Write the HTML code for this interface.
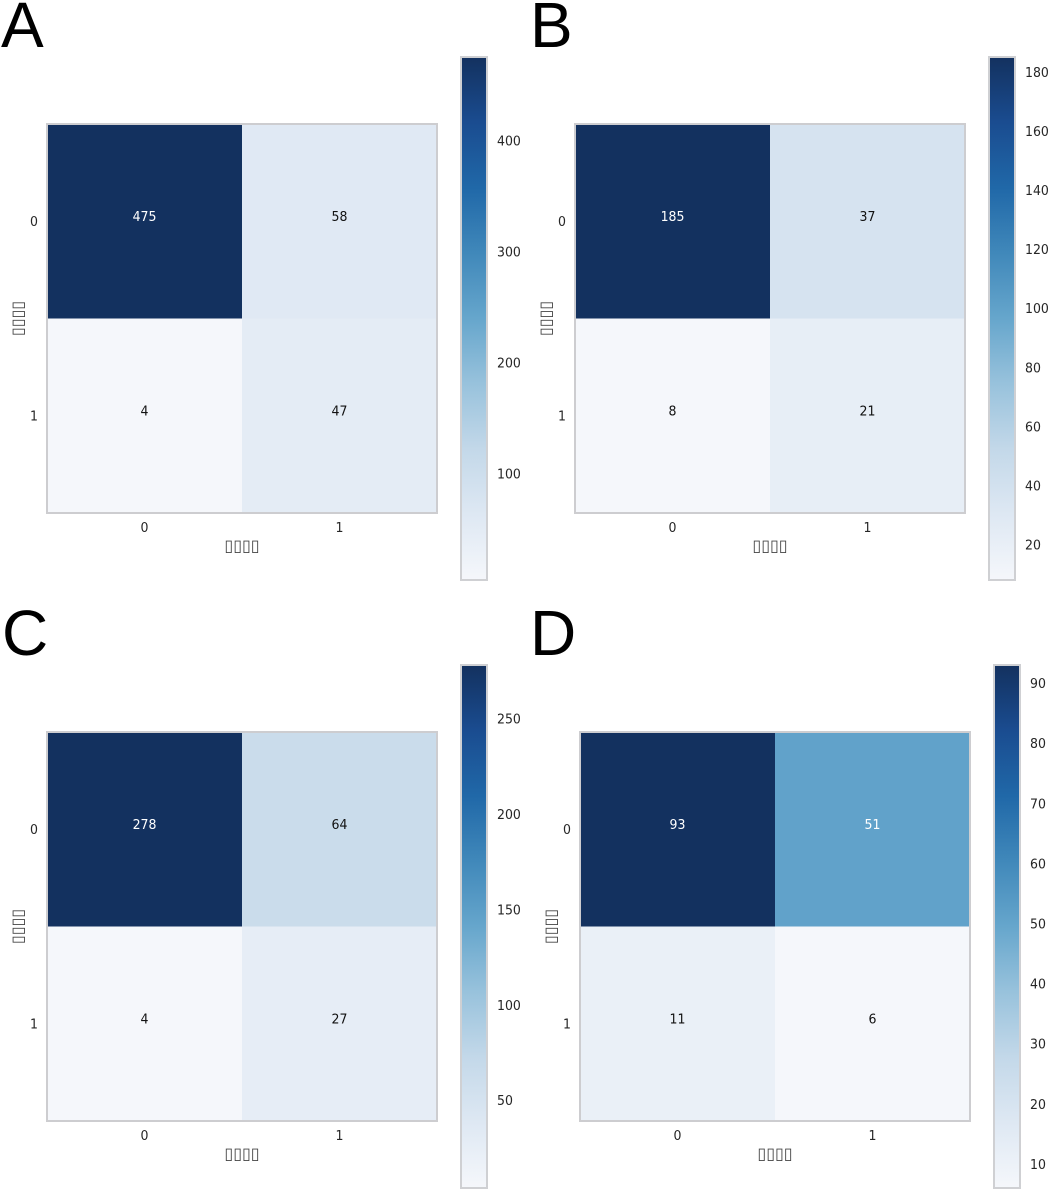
<!DOCTYPE html>
<html lang="zh">
<head>
<meta charset="utf-8">
<title>Confusion matrices</title>
<style>
html,body{margin:0;padding:0;background:#fff;}
#figure{display:block;width:1052px;height:1194px;}
text{font-family:"DejaVu Sans","Liberation Sans",sans-serif;}
</style>
</head>
<body>
<svg id="figure" xmlns="http://www.w3.org/2000/svg" width="1052" height="1194" viewBox="0 0 1052 1194"></svg>
<script>
// ---- Data ----
const panelNames = ['A', 'B', 'C', 'D'];
const classLabels = ['0', '1'];
const xAxisTitle = '▯▯▯▯';
const yAxisTitle = '▯▯▯▯';
const matrixA = [[475, 58], [4, 47]];
const matrixB = [[185, 37], [8, 21]];
const matrixC = [[278, 64], [4, 27]];
const matrixD = [[93, 51], [11, 6]];
const ticksA = [100, 200, 300, 400];
const ticksB = [20, 40, 60, 80, 100, 120, 140, 160, 180];
const ticksC = [50, 100, 150, 200, 250];
const ticksD = [10, 20, 30, 40, 50, 60, 70, 80, 90];
const blues = ['#f5f7fb', '#dee8f3', '#c3d8e9', '#98c2dc', '#66a6cc', '#4088ba', '#2068a8', '#1a4c90', '#13315f'];

// ---- Layout ----
const matrices = [matrixA, matrixB, matrixC, matrixD];
const tickSets = [ticksA, ticksB, ticksC, ticksD];
const layouts = [
  {lx: 1,   ly: 47,   hx: 47,  hy: 124, bx: 461, by: 57},
  {lx: 530, ly: 47,   hx: 575, hy: 124, bx: 989, by: 57},
  {lx: 2,   ly: 655,  hx: 47,  hy: 732, bx: 461, by: 665},
  {lx: 530, ly: 655,  hx: 580, hy: 732, bx: 994, by: 665}
];
const HEAT_W = 390, HEAT_H = 389, BAR_W = 26, BAR_H = 523, SQUEEZE = 0.92;
const NS = 'http://www.w3.org/2000/svg';
const root = document.getElementById('figure');

function hexToRgb(h) {
  return [1, 3, 5].map(i => parseInt(h.substr(i, 2), 16));
}
function colormap(t) {
  const p = Math.max(0, Math.min(1, t)) * (blues.length - 1);
  const i = Math.min(Math.floor(p), blues.length - 2);
  const f = p - i;
  const a = hexToRgb(blues[i]), b = hexToRgb(blues[i + 1]);
  const c = a.map((v, k) => Math.round(v + (b[k] - v) * f));
  return 'rgb(' + c.join(',') + ')';
}
function make(tag, attrs, parent, txt) {
  const el = document.createElementNS(NS, tag);
  for (const k in attrs) el.setAttribute(k, attrs[k]);
  if (txt !== undefined) el.textContent = txt;
  parent.appendChild(el);
  return el;
}
function label(x, y, anchor, fill, txt, parent) {
  return make('text', {
    x: 0, y: 0, 'font-size': 13.6, 'text-anchor': anchor, fill: fill,
    transform: 'translate(' + x + ' ' + y + ') scale(' + SQUEEZE + ' 1)'
  }, parent, txt);
}

const defs = make('defs', {}, root);

matrices.forEach((matrix, p) => {
  const L = layouts[p];
  const flat = matrix.flat();
  const vmin = Math.min(...flat), vmax = Math.max(...flat);
  const norm = v => (v - vmin) / (vmax - vmin);
  const xBand = j => L.hx + j * HEAT_W / matrix.length;
  const yBand = i => L.hy + i * HEAT_H / matrix.length;
  const cellW = HEAT_W / matrix.length, cellH = HEAT_H / matrix.length;
  const barY = v => L.by + BAR_H * (1 - norm(v));
  const threshold = (vmin + vmax) / 2;

  const g = make('g', {}, root);
  
  

  const letter = make('text', {x: L.lx, y: L.ly, 'font-size': 64, fill: '#000', style: 'font-family:"Liberation Sans",sans-serif'}, g, panelNames[p]);
  
  

  matrix.forEach((row, i) => row.forEach((v, j) => {
    const r = make('rect', {x: xBand(j), y: yBand(i), width: cellW, height: cellH, fill: colormap(norm(v))}, g);
    
    
    const t = label(xBand(j) + cellW / 2, yBand(i) + cellH / 2 - 0.5, 'middle', v > threshold ? '#fff' : '#111', String(v), g);
    
    
  }));

  const frame = make('rect', {x: L.hx, y: L.hy, width: HEAT_W, height: HEAT_H, fill: 'none', stroke: '#cdcdd0', 'stroke-width': 2}, g);
  
  

  classLabels.forEach((lab, j) => {
    const xt = label(xBand(j) + cellW / 2, L.hy + HEAT_H + 19, 'middle', '#262626', lab, g);
    
    
    const yt = label(L.hx - 9, yBand(j) + cellH / 2 + 4.5, 'end', '#262626', lab, g);
    
    
  });

  const xTitle = make('text', {x: L.hx + HEAT_W / 2, y: L.hy + HEAT_H + 38, 'font-size': 16, 'text-anchor': 'middle', fill: '#444'}, g, xAxisTitle);
  
  
  const yx = L.hx - 24, yy = L.hy + HEAT_H / 2 - 0;
  const yTitle = make('text', {x: yx, y: yy, 'font-size': 16, 'text-anchor': 'middle', fill: '#444', transform: 'rotate(-90 ' + yx + ' ' + yy + ')'}, g, yAxisTitle);
  
  

  const gid = 'cbar-' + p;
  const grad = make('linearGradient', {id: gid, x1: 0, y1: 1, x2: 0, y2: 0}, defs);
  blues.forEach((c, k) => make('stop', {offset: k / (blues.length - 1), 'stop-color': c}, grad));
  const bar = make('rect', {x: L.bx, y: L.by, width: BAR_W, height: BAR_H, fill: 'url(#' + gid + ')', stroke: '#cfd0d3', 'stroke-width': 2}, g);
  
  

  tickSets[p].forEach(v => {
    const t = label(L.bx + BAR_W + 10, barY(v) + 5, 'start', '#262626', String(v), g);
    
    
  });
});
</script>
</body>
</html>
